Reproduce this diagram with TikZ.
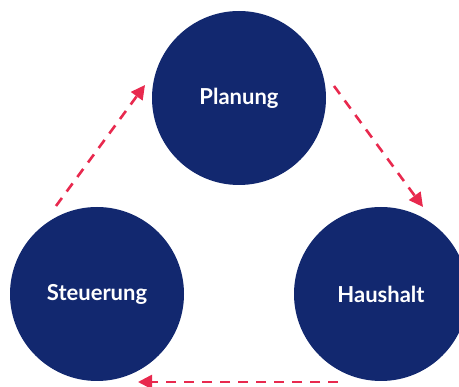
\documentclass[tikz,border=0pt]{standalone}
\usepackage{fontspec}
\setmainfont{Lato}
\usetikzlibrary{arrows.meta}
\definecolor{navy}{HTML}{12286F}
\definecolor{accent}{HTML}{E8294E}
\begin{document}
\begin{tikzpicture}[x=1pt,y=-1pt,
  phase/.style={circle,fill=navy,minimum size=174pt,inner sep=0pt,text=white,
    font=\fontsize{22}{26}\selectfont\bfseries},
  flow/.style={draw=accent,line width=2.6pt,dash pattern=on 10pt off 8pt,
    -{Triangle[length=14pt,width=14pt]}}]
\useasboundingbox (0,0) rectangle (459,387);
\begin{scope}
\clip (0,0) rectangle (459,387);
\node[phase] (plan) at (239,98) {Planung};
\node[phase] (steu) at (97,294) {Steuerung};
\node[phase] (haus) at (381,294) {Haushalt};
\end{scope}
\coordinate (a1) at (56,206);
\coordinate (a2) at (145,85);
\coordinate (b1) at (334,86);
\coordinate (b2) at (423,207);
\coordinate (c1) at (338,382);
\coordinate (c2) at (138,382);
\draw[flow] (a1) -- (a2);
\draw[flow] (b1) -- (b2);
\draw[flow] (c1) -- (c2);
\end{tikzpicture}
\end{document}
